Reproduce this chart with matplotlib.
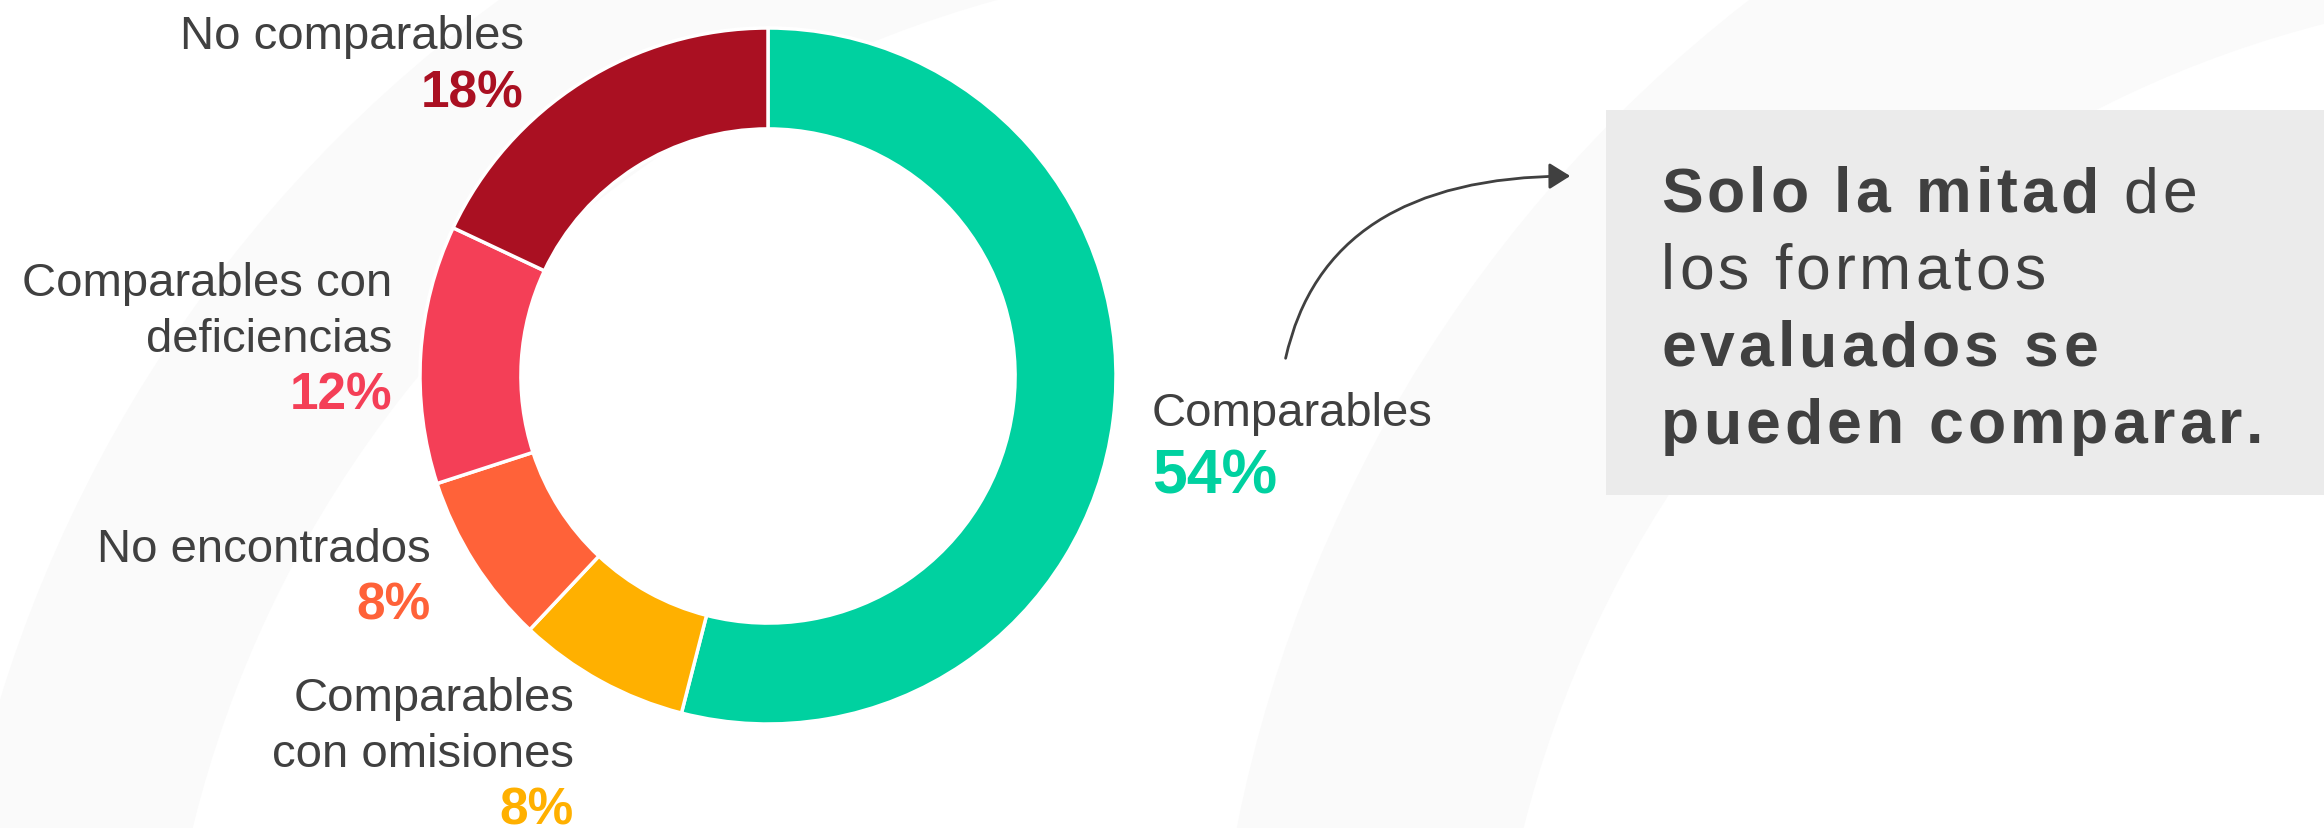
import matplotlib
matplotlib.use("Agg")
import matplotlib.pyplot as plt
from matplotlib.patches import Rectangle, Wedge, FancyArrowPatch

# datos del anillo (sentido horario desde arriba)
labels = ["Comparables", "Comparables\ncon omisiones", "No encontrados",
          "Comparables con\ndeficiencias", "No comparables"]
values = [54, 8, 8, 12, 18]
colors = ["#00D1A0", "#FFB000", "#FF6239", "#F43F57", "#AA1022"]

# mensaje del recuadro gris
msg_lines = [
    [("Solo la mitad ", "bold"), ("de", "normal")],
    [("los formatos", "normal")],
    [("evaluados se", "bold")],
    [("pueden comparar.", "bold")],
]

plt.rcParams['font.family'] = ['Liberation Sans', 'DejaVu Sans']
GRIS = "#404040"

W, H = 2324, 829
fig = plt.figure(figsize=(W / 100, H / 100), dpi=100)

# capa de fondo en pixeles (y hacia abajo)
bg = fig.add_axes([0, 0, 1, 1])
bg.set_xlim(0, W)
bg.set_ylim(H, 0)
bg.axis('off')

# arcos decorativos muy tenues
bg.add_patch(Wedge((1300, 1100), 1360, 180, 270, width=220, color="#FAFAFA", lw=0, zorder=0))
bg.add_patch(Wedge((2600, 1100), 1390, 180, 270, width=280, color="#FAFAFA", lw=0, zorder=0))

# recuadro gris
bg.add_patch(Rectangle((1606, 111), W - 1606, 385, color="#EBEBEB", lw=0, zorder=1))

# flecha curva
arr = FancyArrowPatch((1285, 362), (1573, 177),
                      connectionstyle="angle3,angleA=78,angleB=0",
                      arrowstyle="-|>,head_length=0.8,head_width=0.5",
                      mutation_scale=16, lw=2, color=GRIS, zorder=3)
bg.add_patch(arr)

# anillo
cx, cy, R = 768, 377, 348
ax = fig.add_axes([(cx - R) / W, 1 - (cy + R) / H, 2 * R / W, 2 * R / H])
ax.pie(values, colors=colors, startangle=90, counterclock=False, radius=1,
       wedgeprops=dict(width=0.29, edgecolor='white', linewidth=2.5))
ax.set_xlim(-1, 1)
ax.set_ylim(-1, 1)
ax.axis('off')

# etiquetas: (x, baseline primera linea, alineacion, tam. porcentaje)
label_pos = [
    (1152, 426, 'left', 45),
    (574, 711, 'right', 37),
    (431, 562, 'right', 37),
    (392, 296, 'right', 37),
    (524, 49, 'right', 37),
]
for lab, v, c, (x, y, ha, ps) in zip(labels, values, colors, label_pos):
    lines = lab.split("\n")
    for i, ln in enumerate(lines):
        bg.text(x, y + i * 56, ln, fontsize=34, color=GRIS, ha=ha, va='baseline', zorder=4)
    yp = y + (len(lines) - 1) * 56 + (68 if ps > 40 else 58)
    bg.text(x, yp, f"{v}%", fontsize=ps, fontweight='bold', color=c, ha=ha, va='baseline', zorder=4)

# texto con espaciado entre letras
renderer = fig.canvas.get_renderer()
_cache = {}


def advance(ch, size, weight):
    key = (ch, size, weight)
    if key not in _cache:
        t1 = bg.text(0, 0, "x" + ch + "x", fontsize=size, fontweight=weight)
        t2 = bg.text(0, 0, "xx", fontsize=size, fontweight=weight)
        _cache[key] = t1.get_window_extent(renderer).width - t2.get_window_extent(renderer).width
        t1.remove()
        t2.remove()
    return _cache[key]


def spaced(x, y, parts, size, track):
    for txt, w in parts:
        for ch in txt:
            if ch != " ":
                bg.text(x, y, ch, fontsize=size, fontweight=w, color=GRIS,
                        ha='left', va='baseline', zorder=4)
            x += advance(ch, size, w) + track


for i, parts in enumerate(msg_lines):
    spaced(1661, 212 + i * 77, parts, 45, 4)

fig.savefig("out.png", dpi=100, facecolor="white")
